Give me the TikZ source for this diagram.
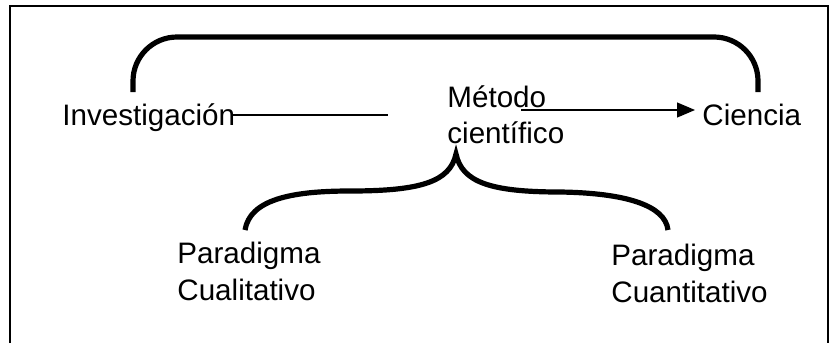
\documentclass[tikz,border=0pt]{standalone}
\usepackage{fontspec}
\setmainfont{Liberation Sans}
\usepackage{tikz}
\usetikzlibrary{arrows.meta,calc,positioning}

\begin{document}
\begin{tikzpicture}[x=.5pt,y=-.5pt,>={Triangle[length=9pt,width=7.5pt]},
    lbl/.style={inner sep=0pt,align=left,font=\fontsize{14.8}{18.2}\selectfont},
    brace/.style={line width=2.6pt},
    thinline/.style={line width=.6pt}]
    \useasboundingbox (0,0) rectangle (838,343);
    \draw[line width=1pt] (10,343)--(10,6)--(828,6)--(828,343);
    % nodes
    \node[lbl,anchor=base west] (inv) at (62,125) {Investigación};
    \node[lbl,anchor=north west] (met) at (447,85) {Método\\científico};
    \node[lbl,anchor=base west] (cien) at (702,125) {Ciencia};
    \node[lbl,anchor=north west] (cual) at (177,242) {Paradigma\\Cualitativo};
    \node[lbl,anchor=north west] (cuan) at (611,244) {Paradigma\\Cuantitativo};
    \coordinate (gap) at (388,115);
    \coordinate (mid) at (521,110);
    \coordinate (topl) at (133,92);
    \coordinate (topr) at (758,92);
    \coordinate (botl) at (245,230);
    \coordinate (botr) at (668,230);
    \coordinate (tip) at (456,154);
    % connectors
    \draw[thinline] ($(inv.east |- gap)+(-3,0)$) -- (gap);
    \draw[thinline,->,shorten >=3.5pt] (mid) -- (cien.west |- mid);
    \draw[brace,rounded corners=22pt] (topl) |- (758,37) -- (topr);
    \draw[brace] (botl) .. controls (250,200) and (290,191) .. (350,191)
      .. controls (420,191) and (450,182) .. (tip)
      .. controls (462,182) and (490,192) .. (560,192)
      .. controls (625,193) and (665,205) .. (botr);
\end{tikzpicture}
\end{document}
